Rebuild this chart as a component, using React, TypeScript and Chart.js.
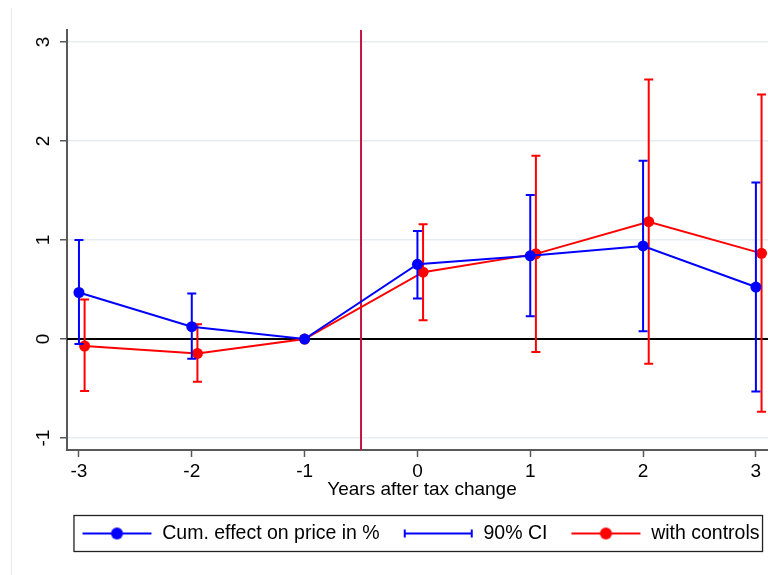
import React, { useEffect, useRef } from "react";
import { Chart, registerables } from "chart.js";

Chart.register(...registerables);

// ---- data ----
const YEARS = [-3, -2, -1, 0, 1, 2, 3];
const CTRL_X = [-2.95, -1.95, -1, 0.05, 1.05, 2.05, 3.05];

const CUM_EFFECT = [0.47, 0.125, 0, 0.755, 0.84, 0.94, 0.525];
const CUM_LO = [-0.05, -0.2, 0, 0.41, 0.23, 0.08, -0.53];
const CUM_HI = [1.0, 0.46, 0, 1.09, 1.455, 1.8, 1.58];

const CTRL_EFFECT = [-0.07, -0.145, 0, 0.675, 0.86, 1.185, 0.865];
const CTRL_LO = [-0.525, -0.43, 0, 0.19, -0.13, -0.25, -0.735];
const CTRL_HI = [0.4, 0.15, 0, 1.16, 1.85, 2.62, 2.47];

const X_TICKS = [-3, -2, -1, 0, 1, 2, 3];
const Y_TICKS = [-1, 0, 1, 2, 3];
const EVENT_X = -0.5;

const LEGEND_LABELS = ["Cum. effect on price in %", "90% CI", "with controls"];
const X_TITLE = "Years after tax change";

// ---- styles ----
const X_MIN = -3.106;
const X_MAX = 3.187;
const Y_MIN = -1.12;
const Y_MAX = 3.12;
const FONT = "'Liberation Sans', Arial, Helvetica, sans-serif";
const BLUE = "#0000ff";
const RED = "#ff0000";
const AXIS = "#595959";
const GRID = "#e6eef1";
const EVENT_COLOR = "#c4163f";
const SYM_MARGIN = 22;
const SYM_LINE = 70;
const SYM_W = SYM_MARGIN + SYM_LINE;
const LEGEND_FONT = 19.5;
const LEGEND_PAD = 2;
const LEGEND_SHIFT = -12;

function makeSymbol(kind: string, color: string): HTMLCanvasElement {
  const c = document.createElement("canvas");
  c.width = SYM_W;
  c.height = 16;
  const g = c.getContext("2d")!;
  g.strokeStyle = color;
  g.fillStyle = color;
  g.lineWidth = 2;
  const a = SYM_MARGIN;
  const b = SYM_MARGIN + SYM_LINE - 1;
  g.beginPath();
  g.moveTo(a, 8);
  g.lineTo(b, 8);
  g.stroke();
  if (kind === "marker") {
    g.beginPath();
    g.arc((a + b) / 2, 8, 6, 0, Math.PI * 2);
    g.fill();
  } else {
    g.beginPath();
    g.moveTo(a + 1, 4);
    g.lineTo(a + 1, 12);
    g.moveTo(b - 1, 4);
    g.lineTo(b - 1, 12);
    g.stroke();
  }
  return c;
}

export default function App() {
  const ref = useRef<HTMLCanvasElement>(null);

  useEffect(() => {
    if (!ref.current) return;

    const intervals = [
      { xs: YEARS, lo: CUM_LO, hi: CUM_HI, color: BLUE },
      { xs: CTRL_X, lo: CTRL_LO, hi: CTRL_HI, color: RED },
    ];

    const errorBars = {
      id: "errorBars",
      beforeDatasetDraw(chart: any, args: any) {
        const ci = intervals[args.index];
        if (!ci) return;
        const { ctx, scales } = chart;
        const xs = scales.x;
        const ys = scales.y;
        ctx.save();
        ctx.strokeStyle = ci.color;
        ctx.lineWidth = 2;
        ci.xs.forEach((xv: number, i: number) => {
          const lo = ci.lo[i];
          const hi = ci.hi[i];
          if (lo === hi) return;
          const px = xs.getPixelForValue(xv);
          const p1 = ys.getPixelForValue(lo);
          const p2 = ys.getPixelForValue(hi);
          ctx.beginPath();
          ctx.moveTo(px, p1);
          ctx.lineTo(px, p2);
          ctx.moveTo(px - 4.5, p1);
          ctx.lineTo(px + 4.5, p1);
          ctx.moveTo(px - 4.5, p2);
          ctx.lineTo(px + 4.5, p2);
          ctx.stroke();
        });
        ctx.restore();
      },
    };

    const refLines = {
      id: "refLines",
      beforeDatasetsDraw(chart: any) {
        const { ctx, chartArea, scales } = chart;
        const y0 = scales.y.getPixelForValue(0);
        const xe = scales.x.getPixelForValue(EVENT_X);
        ctx.save();
        ctx.strokeStyle = "#000";
        ctx.lineWidth = 2;
        ctx.beginPath();
        ctx.moveTo(chartArea.left, y0);
        ctx.lineTo(chartArea.right, y0);
        ctx.stroke();
        ctx.strokeStyle = EVENT_COLOR;
        ctx.lineWidth = 2;
        ctx.beginPath();
        ctx.moveTo(xe, chartArea.top);
        ctx.lineTo(xe, chartArea.bottom);
        ctx.stroke();
        ctx.restore();
      },
    };

    const legendShift = {
      id: "legendShift",
      afterLayout(chart: any) {
        const lg = chart.legend;
        if (!lg) return;
        lg.left += LEGEND_SHIFT;
        lg.right += LEGEND_SHIFT;
      },
    };

    const frames = {
      id: "frames",
      afterDraw(chart: any) {
        const { ctx } = chart;
        const lg = chart.legend;
        ctx.save();
        // faint outer graph border
        ctx.strokeStyle = "#e9ecee";
        ctx.lineWidth = 1;
        ctx.beginPath();
        ctx.moveTo(11.5, 8);
        ctx.lineTo(11.5, 575);
        ctx.stroke();
        if (lg && lg.legendHitBoxes && lg.legendHitBoxes.length) {
          const hb = lg.legendHitBoxes;
          const first = hb[0];
          const last = hb[hb.length - 1];
          const cy = first.top + first.height / 2;
          const x0 = first.left + SYM_MARGIN - 8.5;
          const x1 = last.left + last.width + 3;
          ctx.strokeStyle = "#222";
          ctx.lineWidth = 1.3;
          ctx.strokeRect(x0, cy - 18, x1 - x0, 36);
        }
        ctx.restore();
      },
    };

    const symbols = [
      makeSymbol("marker", BLUE),
      makeSymbol("cap", BLUE),
      makeSymbol("marker", RED),
    ];
    const symbolColors = [BLUE, BLUE, RED];

    const chart = new Chart(ref.current, {
      type: "line",
      data: {
        datasets: [
          {
            label: LEGEND_LABELS[0],
            data: YEARS.map((x, i) => ({ x, y: CUM_EFFECT[i] })),
            borderColor: BLUE,
            backgroundColor: BLUE,
            borderWidth: 2,
            pointRadius: 5.5,
            pointHoverRadius: 5.5,
            pointBackgroundColor: BLUE,
            pointBorderWidth: 0,
            tension: 0,
            fill: false,
          },
          {
            label: LEGEND_LABELS[2],
            data: CTRL_X.map((x, i) => ({ x, y: CTRL_EFFECT[i] })),
            borderColor: RED,
            backgroundColor: RED,
            borderWidth: 2,
            pointRadius: 5.5,
            pointHoverRadius: 5.5,
            pointBackgroundColor: RED,
            pointBorderWidth: 0,
            tension: 0,
            fill: false,
          },
        ],
      },
      options: {
        responsive: false,
        animation: false,
        devicePixelRatio: 1,
        events: [],
        layout: { padding: { top: 30, right: 23, bottom: 21.75, left: 0 } },
        scales: {
          x: {
            type: "linear",
            min: X_MIN,
            max: X_MAX,
            afterBuildTicks: (s: any) => {
              s.ticks = X_TICKS.map((v) => ({ value: v }));
            },
            afterFit: (s: any) => {
              s.height = 71.75;
            },
            grid: {
              drawOnChartArea: false,
              drawTicks: true,
              tickLength: 7,
              tickColor: AXIS,
              tickWidth: 1.5,
            },
            border: { color: AXIS, width: 2 },
            ticks: {
              color: "#000",
              font: { family: FONT, size: 19 },
              padding: 3,
              autoSkip: false,
              maxRotation: 0,
              minRotation: 0,
              callback: (v: any) => String(v),
            },
            title: {
              display: true,
              text: X_TITLE,
              color: "#000",
              font: { family: FONT, size: 19 },
              padding: { top: 0, bottom: 20.35 },
            },
          },
          y: {
            type: "linear",
            min: Y_MIN,
            max: Y_MAX,
            afterBuildTicks: (s: any) => {
              s.ticks = Y_TICKS.map((v) => ({ value: v }));
            },
            afterFit: (s: any) => {
              s.width = 67;
            },
            grid: {
              color: GRID,
              lineWidth: 1.5,
              drawTicks: true,
              tickLength: 7,
              tickColor: AXIS,
              tickWidth: 1.5,
            },
            border: { color: AXIS, width: 2 },
            ticks: {
              color: "#000",
              font: { family: FONT, size: 19 },
              padding: 8,
              minRotation: 90,
              maxRotation: 90,
              crossAlign: "center",
              autoSkip: false,
              callback: (v: any) => String(v),
            },
          },
        },
        plugins: {
          legend: {
            display: true,
            position: "bottom",
            fullSize: false,
            align: "center",
            labels: {
              usePointStyle: true,
              pointStyleWidth: SYM_W,
              padding: LEGEND_PAD,
              color: "#000",
              font: { family: FONT, size: LEGEND_FONT },
              generateLabels: () =>
                LEGEND_LABELS.map((text, i) => ({
                  text,
                  pointStyle: symbols[i] as any,
                  fillStyle: symbolColors[i],
                  strokeStyle: symbolColors[i],
                  fontColor: "#000",
                  lineWidth: 0,
                  hidden: false,
                  datasetIndex: i === 2 ? 1 : 0,
                })),
            },
          },
          tooltip: { enabled: false },
        },
      } as any,
      plugins: [legendShift, errorBars, refLines, frames],
    });

    return () => chart.destroy();
  }, []);

  return (
    <div
      style={{
        position: "fixed",
        left: 0,
        top: 0,
        width: 768,
        height: 575,
        overflow: "hidden",
        background: "#fff",
      }}
    >
      <canvas ref={ref} width={800} height={575} style={{ display: "block" }} />
    </div>
  );
}
